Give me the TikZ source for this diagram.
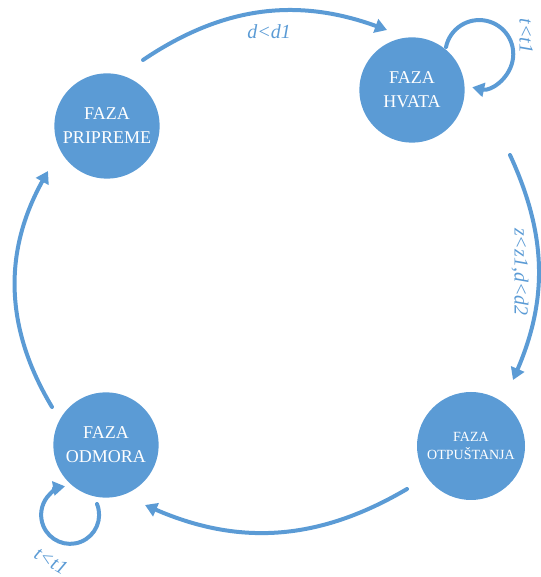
\documentclass[tikz,border=0pt]{standalone}
\usepackage{fontspec}
\setmainfont{Liberation Serif}
\usetikzlibrary{arrows.meta}
\definecolor{phaseblue}{RGB}{91,155,213}
\begin{document}
\begin{tikzpicture}[x=0.75pt,y=0.75pt,
  phase/.style={circle, fill=phaseblue, text=white, align=center,
    minimum size=79pt, inner sep=0pt, font=\fontsize{13.5}{18}\selectfont},
  flow/.style={draw=phaseblue, line width=3pt, line cap=round,
    -{Triangle[length=9pt,width=10.5pt]}},
  cond/.style={text=phaseblue, inner sep=0pt, font=\fontsize{15}{18}\selectfont\itshape}]
\useasboundingbox (0,0) rectangle (540,577);

% phases
\node[phase] (pri) at (107,451) {FAZA\\PRIPREME};
\node[phase] (hva) at (412,487) {FAZA\\HVATA};
\node[phase, minimum size=81pt, font=\fontsize{10.5}{13}\selectfont] (otp) at (471,131) {FAZA\\OTPUŠTANJA};
\node[phase] (odm) at (106,132) {FAZA\\ODMORA};

% ends of the transition arcs
\coordinate (priOut) at (143,517);
\coordinate (hvaIn)  at (387,547);
\coordinate (hvaOut) at (510,422);
\coordinate (otpIn)  at (513,197);
\coordinate (otpOut) at (407,88);
\coordinate (odmIn)  at (145,72);
\coordinate (odmOut) at (52,170);
\coordinate (priIn)  at (48,406);

% transitions around the cycle
\draw[flow] (priOut) to[bend left=27] (hvaIn);
\draw[flow] (hvaOut) to[bend left=24] (otpIn);
\draw[flow] (otpOut) to[bend left=27] (odmIn);
\draw[flow] (odmOut) to[bend left=30] (priIn);

% self loops
\coordinate (hvaLoop) at (446,530);
\draw[flow] (hvaLoop) arc[start angle=168, end angle=-102, radius=25.5pt];
\coordinate (odmLoop) at (97,73);
\draw[flow] (odmLoop) arc[start angle=22, end angle=-260, radius=21.75pt];

% conditions
\node[cond] (c1) at (269,545) {d<d1};
\node[cond, rotate=-90] (c2) at (520,305) {z<z1,d<d2};
\node[cond, rotate=-90] (c3) at (526,541) {t<t1};
\node[cond, rotate=-30] (c4) at (51,16) {t<t1};
\end{tikzpicture}
\end{document}
